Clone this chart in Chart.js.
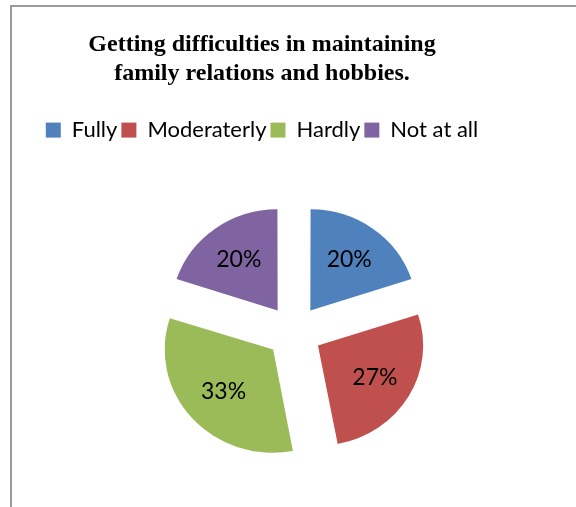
<!DOCTYPE html>
<html>
<head>
<meta charset="utf-8">
<script src="https://cdn.jsdelivr.net/npm/chart.js@4.4.1/dist/chart.umd.min.js"></script>
<style>
  html, body { margin: 0; padding: 0; background: #fff; }
  #wrap { position: relative; width: 576px; height: 507px; }
</style>
</head>
<body>
<div id="wrap"><canvas id="pie"></canvas></div>
<script>
const categories = ["Fully", "Moderaterly", "Hardly", "Not at all"];
const shares = [20, 27, 33, 20];
const sliceColors = ["#4F81BD", "#C0504D", "#9BBB59", "#8064A2"];
const titleLines = ["Getting difficulties in maintaining", "family relations and hobbies."];

// the pie is a little wider than it is tall
const stretchX = 1.05;

// thin grey frame on the left and top edges
const framePlugin = {
  id: "frame",
  beforeDraw(chart) {
    const c = chart.ctx;
    c.save();
    c.strokeStyle = "#9a9a9a";
    c.lineWidth = 2;
    c.beginPath();
    c.moveTo(11, chart.height);
    c.lineTo(11, 6);
    c.lineTo(chart.width, 6);
    c.stroke();
    c.restore();
  }
};

// pie sits right of the title/legend centre line and a bit lower
const shiftPlugin = {
  id: "shift",
  afterLayout(chart) {
    chart.chartArea.left += 64;
    chart.chartArea.top += 9;
  }
};

function pieCentre(chart) {
  const a = chart.chartArea;
  return { x: (a.left + a.right) / 2, y: (a.top + a.bottom) / 2 };
}

const stretchPlugin = {
  id: "stretch",
  beforeDatasetsDraw(chart) {
    const c = chart.ctx;
    const o = pieCentre(chart);
    c.save();
    c.translate(o.x, o.y);
    c.scale(stretchX, 1);
    c.translate(-o.x, -o.y);
  },
  afterDatasetsDraw(chart) {
    chart.ctx.restore();
  }
};

// percentage text inside each slice
const sliceLabels = {
  id: "sliceLabels",
  afterDatasetsDraw(chart) {
    const c = chart.ctx;
    const meta = chart.getDatasetMeta(0);
    const o = pieCentre(chart);
    c.save();
    c.font = "23px Lato";
    c.fillStyle = "#000";
    c.textAlign = "center";
    c.textBaseline = "middle";
    meta.data.forEach((arc, i) => {
      const p = arc.getProps(["x", "y", "startAngle", "endAngle", "outerRadius"], true);
      const mid = (p.startAngle + p.endAngle) / 2;
      const d = (arc.options.offset || 0) / 4 + 0.63 * p.outerRadius;
      const lx = p.x + Math.cos(mid) * d;
      const ly = p.y + Math.sin(mid) * d;
      c.fillText(shares[i] + "%", o.x + (lx - o.x) * stretchX, ly);
    });
    c.restore();
  }
};

new Chart(document.getElementById("pie"), {
  type: "pie",
  data: {
    labels: categories,
    datasets: [{
      data: shares,
      backgroundColor: sliceColors,
      borderWidth: 0,
      offset: 106,
      hoverOffset: 0
    }]
  },
  options: {
    responsive: true,
    maintainAspectRatio: false,
    animation: false,
    radius: 100,
    layout: { padding: { left: 0, right: 52, top: 0, bottom: 3 } },
    plugins: {
      title: {
        display: true,
        text: titleLines,
        color: "#000",
        font: { family: "Liberation Serif", size: 24, weight: "bold", lineHeight: 1.21 },
        padding: { top: 30, bottom: 27 }
      },
      legend: {
        position: "top",
        labels: {
          color: "#000",
          font: { family: "Lato", size: 22 },
          boxWidth: 15,
          boxHeight: 15,
          padding: 4
        }
      },
      tooltip: { enabled: false }
    }
  },
  plugins: [framePlugin, shiftPlugin, stretchPlugin, sliceLabels]
});
</script>
</body>
</html>
